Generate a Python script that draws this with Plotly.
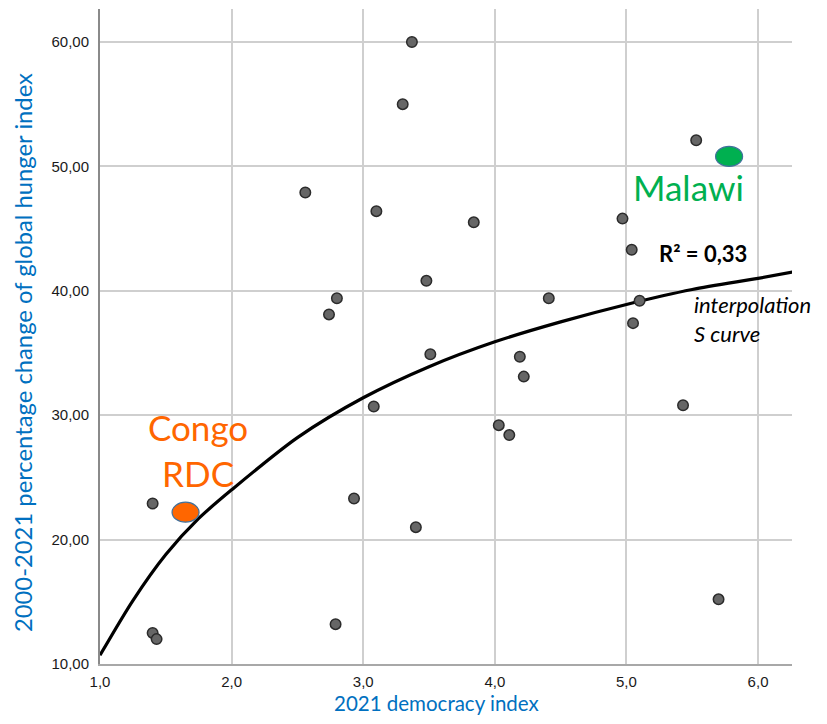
import plotly.graph_objects as go

# Scatter data: 2021 democracy index vs 2000-2021 % change of global hunger index
democracy = [3.37, 3.30, 2.56, 3.10, 2.80, 2.74, 5.53, 3.84, 4.97, 5.04, 3.48, 4.41, 5.10,
             5.05, 3.51, 4.19, 4.22, 3.08, 1.40, 2.93, 3.40, 2.79, 1.40, 1.43, 4.03, 4.11,
             5.43, 5.70]
hunger = [60.0, 55.0, 47.9, 46.4, 39.4, 38.1, 52.1, 45.5, 45.8, 43.3, 40.8, 39.4, 39.2,
          37.4, 34.9, 34.7, 33.1, 30.7, 22.9, 23.3, 21.0, 13.2, 12.5, 12.0, 29.2, 28.4,
          30.8, 15.2]

# Fitted S curve
curve_x = [1.0, 1.25, 1.5, 1.75, 2.0, 2.5, 3.0, 3.5, 4.0, 4.5, 5.0, 5.5, 6.0, 6.26]
curve_y = [10.7, 15.1, 18.8, 21.7, 24.0, 28.2, 31.4, 33.9, 35.9, 37.5, 38.9, 40.1, 41.0, 41.5]

# Highlighted countries
highlight_names = ["Malawi", "Congo RDC"]
highlight_x = [5.78, 1.65]
highlight_y = [50.8, 22.2]
highlight_fill = ["#00B050", "#FF6600"]

x_ticks = [1.0, 2.0, 3.0, 4.0, 5.0, 6.0]
y_ticks = [10, 20, 30, 40, 50, 60]

fig = go.Figure()

fig.add_trace(go.Scatter(
    x=curve_x, y=curve_y, mode="lines",
    line=dict(color="black", width=3.2, shape="spline", smoothing=0.8),
    hoverinfo="skip", showlegend=False))

fig.add_trace(go.Scatter(
    x=democracy, y=hunger, mode="markers",
    marker=dict(size=10.5, color="#666666", line=dict(color="#2b2b2b", width=1.5)),
    showlegend=False))

for name, hx, hy, col in zip(highlight_names, highlight_x, highlight_y, highlight_fill):
    fig.add_shape(type="circle", xref="x", yref="y",
                  xsizemode="pixel", ysizemode="pixel",
                  xanchor=hx, yanchor=hy, x0=-13.5, x1=13.5, y0=-10, y1=10,
                  fillcolor=col, line=dict(color="#41719C", width=1.2), layer="above")

ann_font = "Lato, Carlito, Calibri, sans-serif"
fig.add_annotation(x=highlight_x[0], y=highlight_y[0], xref="x", yref="y",
                   text="Malawi", showarrow=False, xshift=-41, yshift=-31,
                   font=dict(family=ann_font, size=35, color="#00B050"))
fig.add_annotation(x=highlight_x[1], y=highlight_y[1], xref="x", yref="y",
                   text="Congo<br>RDC", showarrow=False, xshift=12, yshift=62,
                   font=dict(family=ann_font, size=35, color="#FF6600"))
fig.add_annotation(x=curve_x[-2], y=curve_y[-2], xref="x", yref="y",
                   text="<b>R² = 0,33</b>", showarrow=False, xshift=-55, yshift=25,
                   font=dict(family=ann_font, size=22, color="black"))
fig.add_annotation(x=curve_x[-2], y=curve_y[-2], xref="x", yref="y",
                   text="<i>interpolation</i><br><i>S curve</i>", showarrow=False,
                   xanchor="left", align="left", xshift=-66, yshift=-41,
                   font=dict(family=ann_font, size=22, color="black"))

title_color = "#0070C0"
fig.add_annotation(x=-0.111, y=0.475, xref="paper", yref="paper",
                   xanchor="center", yanchor="middle",
                   text="2000-2021 percentage change of global hunger index",
                   textangle=-90, showarrow=False,
                   font=dict(family=ann_font, size=23.8, color=title_color))
fig.add_annotation(x=0.486, y=-0.0595, xref="paper", yref="paper",
                   xanchor="center", yanchor="middle",
                   text="2021 democracy index", showarrow=False,
                   font=dict(family=ann_font, size=20.5, color=title_color))

fig.update_layout(
    width=819, height=708,
    margin=dict(l=92, r=35, t=1, b=52),
    paper_bgcolor="white", plot_bgcolor="white",
    separators=",.",
    font=dict(family="Liberation Sans, Arial, sans-serif", size=15, color="#1a1a1a"),
)
fig.update_xaxes(range=[1.0, 6.258], tickvals=x_ticks, tickformat=".1f",
                 showgrid=True, gridcolor="#cfcfcf", gridwidth=2,
                 showline=True, linecolor="#a8a8a8", linewidth=2,
                 zeroline=False, ticks="", ticklabelstandoff=3)
fig.update_yaxes(range=[10, 62.65], tickvals=y_ticks, tickformat=".2f",
                 showgrid=True, gridcolor="#cfcfcf", gridwidth=2,
                 showline=True, linecolor="#8a8a8a", linewidth=2,
                 zeroline=False, ticks="", ticklabelstandoff=6)

fig.write_html("out.html")
